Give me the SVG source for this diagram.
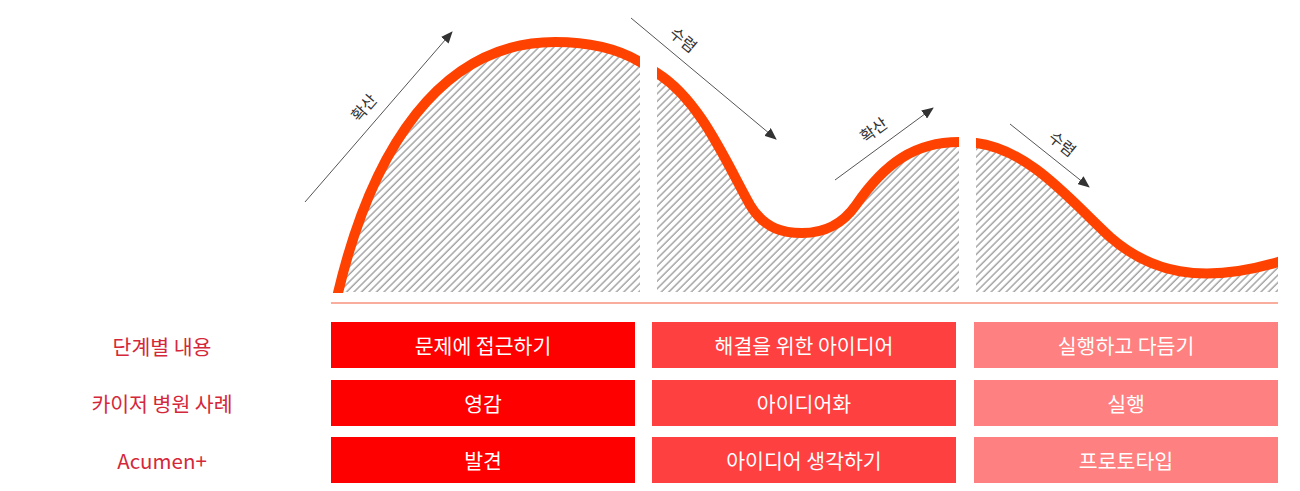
<svg xmlns="http://www.w3.org/2000/svg" width="1300" height="491" viewBox="0 0 1300 491">
<style>
  .curve{fill:none;stroke:#ff4200;stroke-width:10;stroke-linecap:butt}
  .hatch{fill:url(#hatch);stroke:none}
  .arrow{stroke:#555;stroke-width:1;fill:none;marker-end:url(#ah)}
  .alabel{font-family:"Noto Sans CJK KR","Noto Sans",sans-serif;font-size:16px;fill:#333;text-anchor:middle;dominant-baseline:central}
  .row{font-family:"Noto Sans CJK KR","Noto Sans",sans-serif;font-size:20.5px;fill:#d4283a;text-anchor:middle;dominant-baseline:central}
  .btxt{font-family:"Noto Sans CJK KR","Noto Sans",sans-serif;font-size:20.5px;fill:#fff;text-anchor:middle;dominant-baseline:central}
  .c1{fill:#ff0000}
  .c2{fill:#ff4040}
  .c3{fill:#ff8080}
</style>
<defs>
  <pattern id="hatch" patternUnits="userSpaceOnUse" width="5.3" height="10" patternTransform="rotate(45)">
    <line x1="1" y1="0" x2="1" y2="10" stroke="#8e8e8e" stroke-width="1.2"/>
  </pattern>
  <marker id="ah" markerWidth="12" markerHeight="10" refX="11" refY="5" orient="auto" markerUnits="userSpaceOnUse">
    <path d="M0,0 L12,5 L0,10 Z" fill="#333"/>
  </marker>
  <clipPath id="cl1"><rect x="300" y="0" width="340" height="293"/></clipPath>
  <clipPath id="cl2"><rect x="657" y="0" width="302" height="293"/></clipPath>
  <clipPath id="cl3"><rect x="976" y="0" width="302" height="293"/></clipPath>
</defs>
<rect width="1300" height="491" fill="#fff"/>

<g id="chart">
  <g id="section1">
    <path class="hatch" d="M338,293 C372,150 440,42 555,42 C592,42 620,50 640,62 L640,292 L338,292 Z"/>
    <path class="curve" clip-path="url(#cl1)" d="M335,307 L338,293 C372,150 440,42 555,42 C592,42 620,50 640,62 L660,74"/>
  </g>
  <g id="section2">
    <path class="hatch" d="M657,73 C700,100 725,160 750,205 C765,230 785,233 802,233 C820,233 840,228 856,205 C885,163 915,142 959,142 L959,292 L657,292 Z"/>
    <path class="curve" clip-path="url(#cl2)" d="M640,62 L657,73 C700,100 725,160 750,205 C765,230 785,233 802,233 C820,233 840,228 856,205 C885,163 915,142 959,142 L975,142"/>
  </g>
  <g id="section3">
    <path class="hatch" d="M976,143 C1030,150 1070,200 1110,237 C1150,272 1200,285 1278,262 L1278,292 L976,292 Z"/>
    <path class="curve" clip-path="url(#cl3)" d="M960,141 L976,143 C1030,150 1070,200 1110,237 C1150,272 1200,285 1278,262 L1295,256"/>
  </g>
  <line x1="331" y1="303" x2="1278" y2="303" stroke="#f9ad9c" stroke-width="2"/>
</g>

<g id="connectors">
  <line class="arrow" x1="305" y1="202" x2="452" y2="32"/>
  <line class="arrow" x1="631" y1="18" x2="776" y2="139"/>
  <line class="arrow" x1="835" y1="180" x2="933" y2="108"/>
  <line class="arrow" x1="1010" y1="124" x2="1089" y2="187"/>
</g>

<g id="arrow-labels">
  <text class="alabel" transform="translate(363,107) rotate(-49)">확산</text>
  <text class="alabel" transform="translate(684,39) rotate(40)">수렴</text>
  <text class="alabel" transform="translate(873,129) rotate(-36)">확산</text>
  <text class="alabel" transform="translate(1063,143) rotate(39)">수렴</text>
</g>

<g id="row-labels">
  <text class="row" x="162" y="346">단계별 내용</text>
  <text class="row" x="162" y="403">카이저 병원 사례</text>
  <text class="row" x="162" y="460">Acumen+</text>
</g>

<g id="col1">
  <g id="b11"><rect class="c1" x="331" y="322" width="304" height="46"/><text class="btxt" x="483" y="345">문제에 접근하기</text></g>
  <g id="b12"><rect class="c1" x="331" y="380" width="304" height="46"/><text class="btxt" x="483" y="403">영감</text></g>
  <g id="b13"><rect class="c1" x="331" y="437" width="304" height="46"/><text class="btxt" x="483" y="460">발견</text></g>
</g>
<g id="col2">
  <g id="b21"><rect class="c2" x="652" y="322" width="304" height="46"/><text class="btxt" x="804" y="345">해결을 위한 아이디어</text></g>
  <g id="b22"><rect class="c2" x="652" y="380" width="304" height="46"/><text class="btxt" x="804" y="403">아이디어화</text></g>
  <g id="b23"><rect class="c2" x="652" y="437" width="304" height="46"/><text class="btxt" x="804" y="460">아이디어 생각하기</text></g>
</g>
<g id="col3">
  <g id="b31"><rect class="c3" x="974" y="322" width="304" height="46"/><text class="btxt" x="1126" y="345">실행하고 다듬기</text></g>
  <g id="b32"><rect class="c3" x="974" y="380" width="304" height="46"/><text class="btxt" x="1126" y="403">실행</text></g>
  <g id="b33"><rect class="c3" x="974" y="437" width="304" height="46"/><text class="btxt" x="1126" y="460">프로토타입</text></g>
</g>
</svg>
